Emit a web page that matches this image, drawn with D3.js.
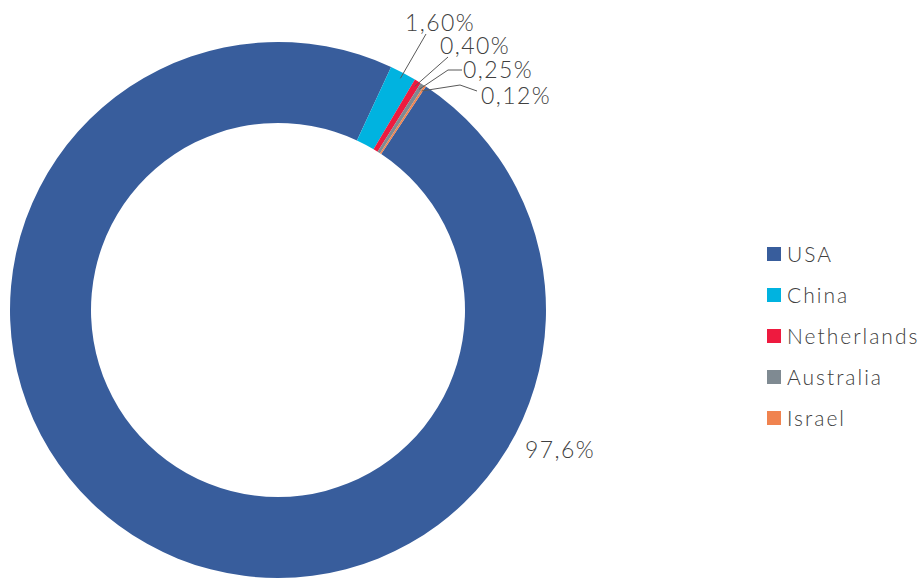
<!DOCTYPE html>
<html>
<head>
<meta charset="utf-8">
<script src="https://cdn.jsdelivr.net/npm/d3@7"></script>
<style>
  body { margin: 0; background: #fff; }
  text { font-family: Lato, "Open Sans", sans-serif; font-weight: 300; fill: #404040; }
</style>
</head>
<body>
<div id="chart"></div>
<script>
// data
var countries = ["USA", "China", "Netherlands", "Australia", "Israel"];
var shares = [97.6, 1.60, 0.40, 0.25, 0.12];
var shareLabels = ["97,6%", "1,60%", "0,40%", "0,25%", "0,12%"];
var colours = ["#385d9c", "#00b3e0", "#ee1a3f", "#7f8a92", "#f0834f"];

var width = 924, height = 578;
var cx = 278, cy = 310;
var outerR = 268, innerR = 187;

var svg = d3.select("#chart")
  .append("svg")
  .attr("width", width)
  .attr("height", height);

var g = svg.append("g")
  .attr("transform", "translate(" + cx + "," + cy + ")");

// first slice starts a bit past 12 o'clock
var startA = 33.5 * Math.PI / 180;

var pie = d3.pie()
  .sort(null)
  .value(d => d)
  .startAngle(startA)
  .endAngle(startA + 2 * Math.PI);

var arc = d3.arc()
  .innerRadius(innerR)
  .outerRadius(outerR);

var arcs = pie(shares);

g.selectAll("path.slice")
  .data(arcs)
  .enter().append("path")
  .attr("class", "slice")
  .attr("d", arc)
  .attr("fill", (d, i) => colours[i]);

// point on the ring, in the middle of the slice
function edgePoint(d, r) {
  var a = (d.startAngle + d.endAngle) / 2;
  return [r * Math.sin(a), -r * Math.cos(a)];
}

// label layout (relative to the chart centre)
var labelPos = [
  { x: 247, y: 148 },
  { x: 127, y: -279 },
  { x: 162, y: -256 },
  { x: 185, y: -232 },
  { x: 203, y: -206 }
];
var elbows = [null, null, null, [170, -240], [182, -225]];
var leaderEnd = [null, [148, -276], [170, -253], [184, -240], [199, -219]];

arcs.forEach(function(d, i) {
  if (leaderEnd[i]) {
    var pts = [edgePoint(d, outerR - 6)];
    if (elbows[i]) pts.push(elbows[i]);
    pts.push(leaderEnd[i]);
    g.append("path")
      .attr("d", d3.line()(pts))
      .attr("fill", "none")
      .attr("stroke", "#595959")
      .attr("stroke-width", 1);
  }
  g.append("text")
    .attr("x", labelPos[i].x)
    .attr("y", labelPos[i].y)
    .attr("font-size", 23)
    .style("letter-spacing", "1.4px")
    .text(shareLabels[i]);
});

// legend
var legend = svg.append("g")
  .attr("transform", "translate(767,254)");

var item = legend.selectAll("g")
  .data(countries)
  .enter().append("g")
  .attr("transform", (d, i) => "translate(0," + i * 41 + ")");

item.append("rect")
  .attr("x", 0)
  .attr("y", -7)
  .attr("width", 14)
  .attr("height", 14)
  .attr("fill", (d, i) => colours[i]);

item.append("text")
  .attr("x", 20)
  .attr("y", 8)
  .attr("font-size", 21)
  .style("letter-spacing", "2px")
  .text(d => d);
</script>
</body>
</html>
